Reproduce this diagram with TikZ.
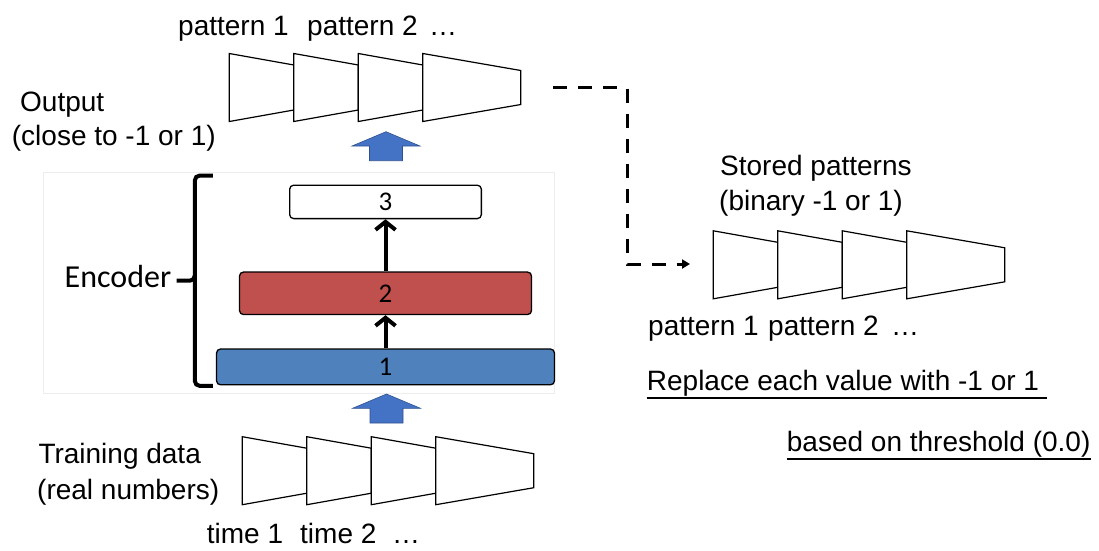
\documentclass[tikz,border=0pt]{standalone}
\usepackage{fontspec}
\setmainfont{Liberation Sans}
\newfontfamily\calibrifont{Carlito}
\usetikzlibrary{arrows.meta}
\definecolor{encred}{HTML}{C0504D}
\definecolor{encblue}{HTML}{4F81BD}
\definecolor{arrblue}{HTML}{4472C4}
\definecolor{arrborder}{HTML}{2F528F}
\definecolor{framegray}{HTML}{EDEDED}
\newcommand{\traprow}[3]{%
  \coordinate (#1) at (#2,#3);
  \draw[trap] (#2,#3-34) -- ++(64.5,11.5) -- ++(0,45) -- ++(-64.5,11.5) -- cycle;
  \draw[trap] (#2+64.5,#3-34) -- ++(64.5,11.5) -- ++(0,45) -- ++(-64.5,11.5) -- cycle;
  \draw[trap] (#2+129,#3-34) -- ++(64.5,11.5) -- ++(0,45) -- ++(-64.5,11.5) -- cycle;
  \draw[trap] (#2+193.5,#3-34) -- ++(98,17) -- ++(0,34) -- ++(-98,17) -- cycle;
}
\newcommand{\upblue}[1]{%
  \filldraw[bluearrow] (#1) -- ++(34,14.3) -- ++(-17.5,0) -- ++(0,14.7) -- ++(-33,0) -- ++(0,-14.7) -- ++(-17.5,0) -- cycle;
}
\begin{document}
\begin{tikzpicture}[x=1pt,y=-1pt,
  lbl/.style={inner sep=0pt, anchor=base west, font=\fontsize{28}{33}\selectfont},
  trap/.style={draw=black, line width=1.2pt, fill=white, line join=miter},
  layer/.style={draw=black, line width=1.3pt, rounded corners=4pt, inner sep=0pt,
    font=\calibrifont\fontsize{27}{30}\selectfont},
  encarrow/.style={line width=4pt, -{Straight Barb[length=8pt,width=20pt]}},
  bluearrow/.style={fill=arrblue, draw=arrborder, line width=0.6pt, line join=miter},
  dasharrow/.style={line width=3pt, dash pattern=on 14pt off 11pt,
    -{Triangle[length=8pt,width=9pt]}},
  uline/.style={line width=1.8pt}
]
\useasboundingbox (0,0) rectangle (1099,550);

% encoder frame
\draw[framegray, line width=0.8pt] (43.8,172) rectangle (554.8,393);

% trapezoid rows
\traprow{toprow}{229.3}{87.5}
\traprow{botrow}{242.3}{470.7}
\traprow{rightrow}{713.3}{264.8}

% top labels
\node[lbl] (tp1) at (178,35) {pattern 1};
\node[lbl] (tp2) at (307,35) {pattern 2};
\node[lbl] (tp3) at (429,35) {…};

\node[lbl] (out1) at (20,111.7) {Output};
\node[lbl] (out2) at (11.7,145.7) {(close to -1 or 1)};

% encoder layers
\node[layer, fill=white, minimum width=191.7, minimum height=33.4] (b3) at (385.5,201.9) {3};
\node[layer, fill=encred, minimum width=292, minimum height=42.5] (b2) at (385.5,293.3) {2};
\node[layer, fill=encblue, minimum width=337.9, minimum height=35.8] (b1) at (385.5,366.9) {1};
\draw[encarrow] (b1.north) -- (b2.south);
\draw[encarrow] (b2.north) -- (b3.south);

% brace
\draw[line width=4pt, rounded corners=5pt] (212.8,175.5) -- (194.8,175.5) -- (194.8,280.7) -- (176.6,280.7);
\draw[line width=4pt, rounded corners=5pt] (194.8,275) -- (194.8,385.9) -- (212.8,385.9);
\node[inner sep=0pt, anchor=base east, font=\calibrifont\fontsize{32}{36}\selectfont] (enc) at (171.4,287.6) {Encoder};

% blue arrows
\coordinate (uatop) at (386,131.7);
\coordinate (uabot) at (386.5,394);
\upblue{uatop}
\upblue{uabot}

% bottom labels
\node[lbl] (td1) at (38.3,463.3) {Training data};
\node[lbl] (td2) at (37,499) {(real numbers)};
\node[lbl] (t1) at (206.7,543) {time 1};
\node[lbl] (t2) at (300,543) {time 2};
\node[lbl] (t3) at (392,543) {…};

% dashed connector
\coordinate (dstart) at (553,87.7);
\coordinate (dc1) at (627,87.7);
\coordinate (dc2) at (627,264);
\coordinate (dend) at (690,264);
\draw[dasharrow] (dstart) -- (dc1) -- (dc2) -- (dend);

% right labels
\node[lbl] (sp1) at (720,175) {Stored patterns};
\node[lbl] (sp2) at (719,210.7) {(binary -1 or 1)};
\node[lbl] (rp1) at (648,335) {pattern 1};
\node[lbl] (rp2) at (768,335) {pattern 2};
\node[lbl] (rp3) at (891,335) {…};

\node[lbl] (rep) at (646.7,390.7) {Replace each value with -1 or 1};
\draw[uline] ([yshift=-7.5pt]rep.base west) -- ([yshift=-7.5pt,xshift=8pt]rep.base east);
\node[lbl] (thr) at (786.7,451.7) {based on threshold (0.0)};
\draw[uline] ([yshift=-7.5pt]thr.base west) -- ([yshift=-7.5pt]thr.base east);
\end{tikzpicture}
\end{document}
